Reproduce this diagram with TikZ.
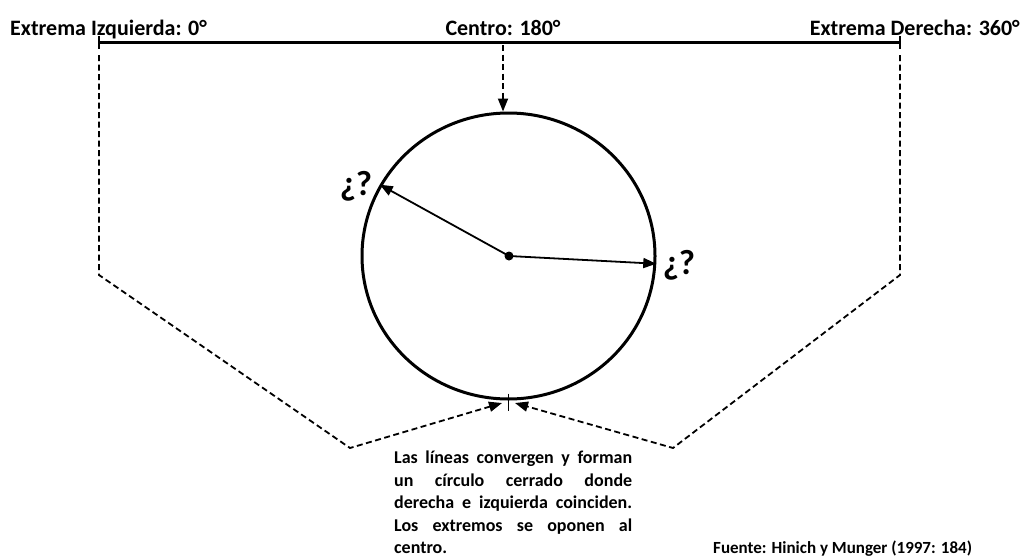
\documentclass[tikz,border=0pt]{standalone}
\usepackage{fontspec}
\setmainfont{Carlito}
\usetikzlibrary{arrows.meta,positioning,shapes.geometric}
\hyphenpenalty=10000
\exhyphenpenalty=10000

\begin{document}
\begin{tikzpicture}
  [x=1pt,y=-1pt,
   every node/.style={font=\bfseries,inner sep=0pt},
   head/.style={font=\fontsize{22}{25}\selectfont\bfseries},
   ask/.style={font=\fontsize{35}{38}\selectfont\bfseries},
   note/.style={font=\fontsize{18}{22.5}\selectfont\bfseries,text width=238pt,align=justify},
   guide/.style={line width=1.8pt,dash pattern=on 6pt off 3.5pt},
   tip/.style={-{Triangle[length=13pt,width=10pt]}}]
  \useasboundingbox (0,0) rectangle (1022,557);
  % scale line
  \coordinate (lt) at (99,42);
  \coordinate (rt) at (900,42);
  \coordinate (top) at (503,42);
  \draw[line width=3pt] (lt) -- (rt);
  \draw[line width=1.5pt] ([yshift=6pt]lt) -- ([yshift=-7pt]lt);
  \draw[line width=1.5pt] ([yshift=6pt]rt) -- ([yshift=-7pt]rt);
  \node[head,anchor=base west] (lft) at (10,35.5) {Extrema Izquierda: 0°};
  \node[head,anchor=base] (mid) at (503,35.5) {Centro: 180°};
  \node[head,anchor=base east] (rgt) at (1020,35.5) {Extrema Derecha: 360°};
  % circle
  \node[draw,ellipse,line width=3pt,minimum width=293pt,minimum height=286pt] (circ) at (508.5,256) {};
  \node[circle,fill,minimum size=9pt] (dot) at (509,256) {};
  \node[ask] (ql) at (356,186) {¿?};
  \node[ask] (qr) at (679,265) {¿?};
  \foreach \ang in {151,-3}
    \draw[line width=1.8pt,tip] (dot.center) -- (circ.\ang);
  \draw[guide,tip] ([yshift=-3pt]top) -- (top |- circ.north);
  % folded ends
  \coordinate (lb) at (99,275);
  \coordinate (lc) at (350,448);
  \coordinate (rb) at (900,275);
  \coordinate (rc) at (673,448);
  \coordinate (bl) at (502,403);
  \coordinate (br) at (515,403);
  \draw[guide,tip] ([yshift=-13pt]lt) -- (lb) -- (lc) -- (bl);
  \draw[guide,tip] ([yshift=-13pt]rt) -- (rb) -- (rc) -- (br);
  \draw[line width=1.5pt] ([yshift=7pt]circ.south) -- ([yshift=-10pt]circ.south);
  \node[note,anchor=north west] (txt) at (394,451) {\frenchspacing
    Las líneas convergen y forman un círculo cerrado donde derecha e izquierda coinciden. Los extremos se oponen al centro.};
  \node[font=\fontsize{17}{20}\selectfont\bfseries,anchor=base west] (src) at (713,553) {Fuente: Hinich y Munger (1997: 184)};
\end{tikzpicture}
\end{document}
